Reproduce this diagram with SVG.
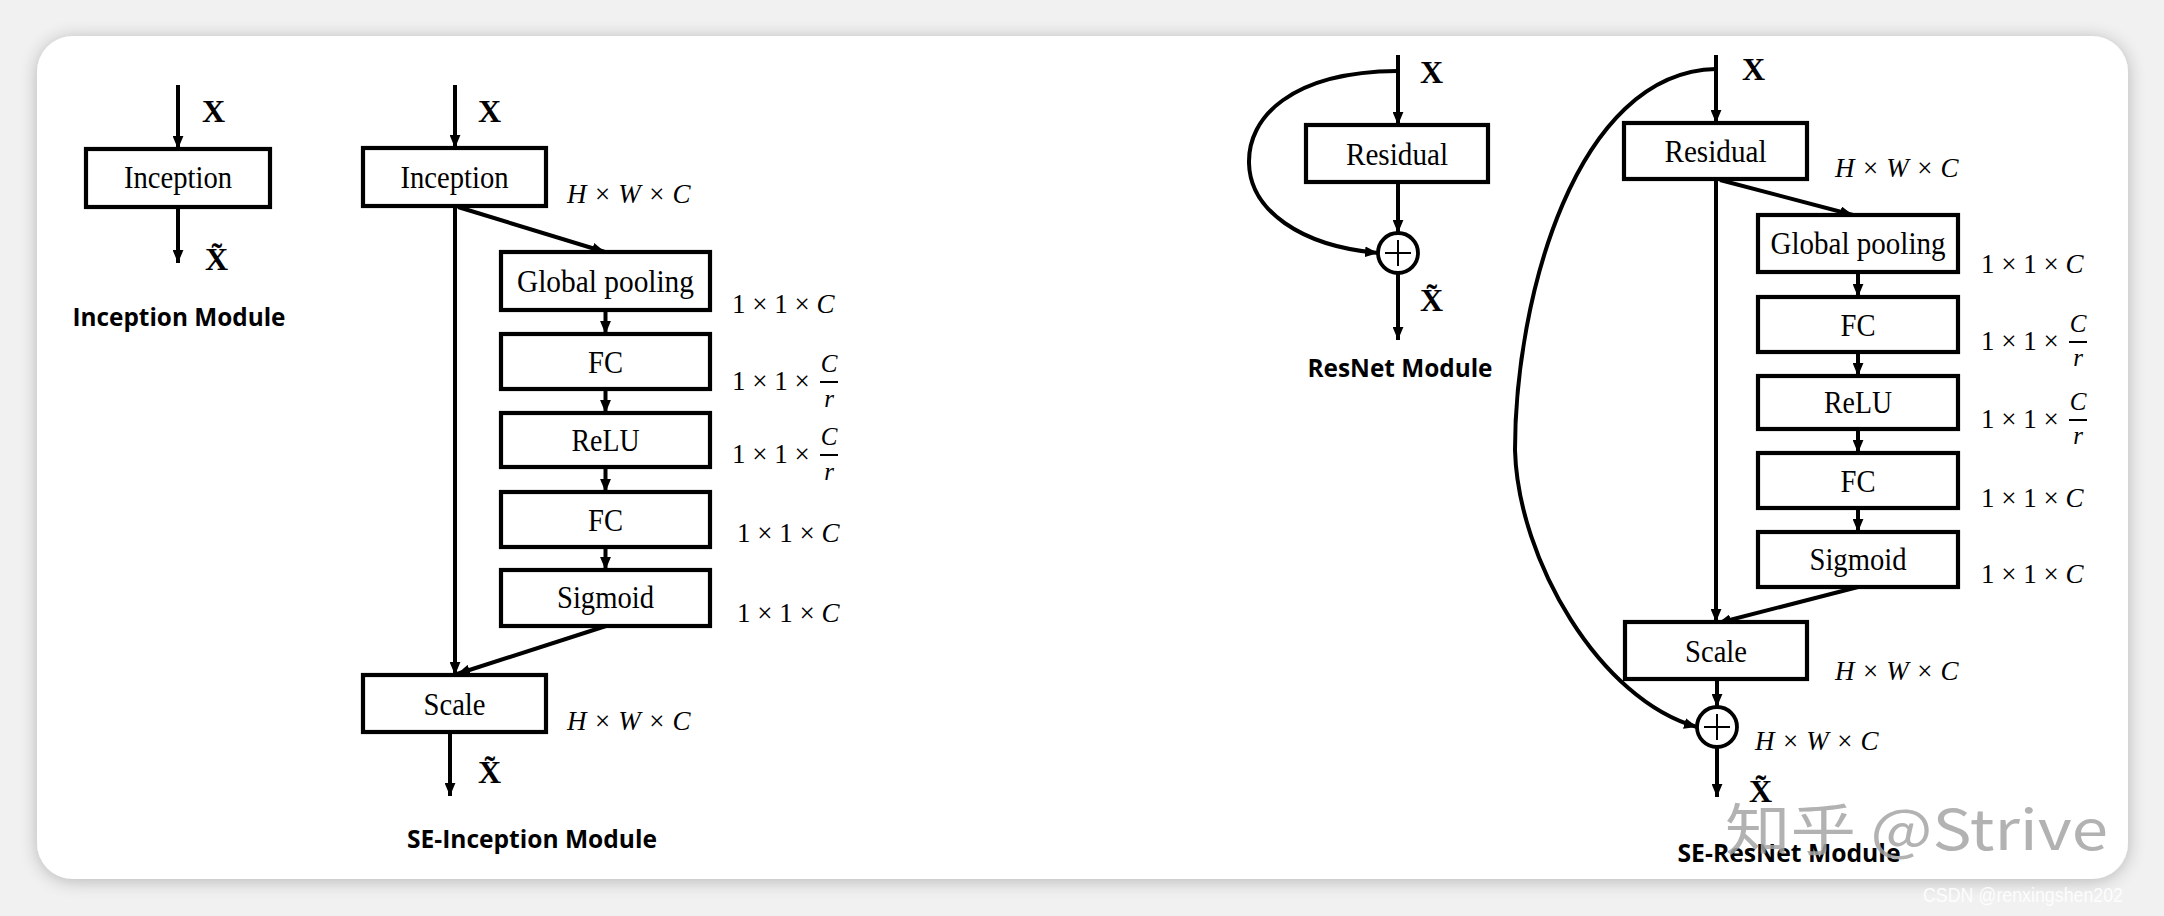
<svg xmlns="http://www.w3.org/2000/svg" width="2164" height="916" viewBox="0 0 2164 916">
<defs>
<filter id="shadow" x="-5%" y="-10%" width="110%" height="120%">
<feGaussianBlur in="SourceAlpha" stdDeviation="9"/>
<feOffset dx="0" dy="2"/>
<feComponentTransfer><feFuncA type="linear" slope="0.25"/></feComponentTransfer>
<feMerge><feMergeNode/><feMergeNode in="SourceGraphic"/></feMerge>
</filter>
<marker id="ah" viewBox="0 0 12 10" refX="12" refY="5" markerWidth="13" markerHeight="11" markerUnits="userSpaceOnUse" orient="auto">
<path d="M0,0 L12,5 L0,10 z" fill="#000"/>
</marker>
</defs>
<style>
.box{fill:#fff;stroke:#000;stroke-width:4.2}
.ln{fill:none;stroke:#000;stroke-width:4}
.arr{fill:none;stroke:#000;stroke-width:4;marker-end:url(#ah)}
.lbl{font-family:"Liberation Serif","Times New Roman",serif;font-size:31px;text-anchor:middle;fill:#000}
.bx{font-family:"Liberation Serif","Times New Roman",serif;font-size:32px;font-weight:bold;fill:#000}
.m{font-family:"Liberation Serif","Times New Roman",serif;font-size:27px;fill:#000}
.mi{font-family:"Liberation Serif","Times New Roman",serif;font-size:27px;font-style:italic;fill:#000}
.fr{font-family:"Liberation Serif","Times New Roman",serif;font-size:25px;font-style:italic;fill:#000;text-anchor:middle}
.ttl{font-family:"Open Sans","Liberation Sans",sans-serif;font-size:25px;font-weight:bold;text-anchor:middle;fill:#000}
.plus{fill:#fff;stroke:#000;stroke-width:3.8}
.pl{stroke:#000;stroke-width:2;fill:none}
</style>
<rect x="0" y="0" width="2164" height="916" fill="#f1f1f1"/>
<rect x="37" y="36" width="2091" height="843" rx="36" fill="#fff" filter="url(#shadow)"/>

<g id="connectors">
<line class="arr" x1="178" y1="85" x2="178" y2="149"/>
<line class="arr" x1="178" y1="207" x2="178" y2="263"/>
<line class="arr" x1="455" y1="85" x2="455" y2="148"/>
<line class="arr" x1="455" y1="206" x2="455" y2="675"/>
<line class="arr" x1="458" y1="207" x2="605" y2="252"/>
<line class="arr" x1="605.5" y1="310" x2="605.5" y2="334"/>
<line class="arr" x1="605.5" y1="389" x2="605.5" y2="413"/>
<line class="arr" x1="605.5" y1="467" x2="605.5" y2="492"/>
<line class="arr" x1="605.5" y1="547" x2="605.5" y2="570"/>
<line class="arr" x1="606" y1="626" x2="457" y2="674"/>
<line class="arr" x1="450" y1="732" x2="450" y2="796"/>
<line class="arr" x1="1398" y1="55" x2="1398" y2="125"/>
<line class="arr" x1="1398" y1="182" x2="1398" y2="233"/>
<line class="arr" x1="1398" y1="273" x2="1398" y2="340"/>
<path class="arr" d="M1397,71 C1290,72 1248,118 1249,163 C1250,210 1300,246 1378,253"/>
<line class="arr" x1="1716" y1="55" x2="1716" y2="123"/>
<line class="arr" x1="1716" y1="179" x2="1716" y2="622"/>
<line class="arr" x1="1720" y1="180" x2="1853" y2="215"/>
<line class="arr" x1="1858" y1="272" x2="1858" y2="297"/>
<line class="arr" x1="1858" y1="352" x2="1858" y2="376"/>
<line class="arr" x1="1858" y1="429" x2="1858" y2="453"/>
<line class="arr" x1="1858" y1="508" x2="1858" y2="532"/>
<line class="arr" x1="1858" y1="587" x2="1718" y2="623"/>
<line class="arr" x1="1717" y1="679" x2="1717" y2="707"/>
<line class="arr" x1="1717" y1="747" x2="1717" y2="797"/>
<path class="arr" d="M1716,69 C1575,72 1515,300 1515,450 C1518,560 1600,700 1697,727"/>
</g>

<g id="inc">
<rect class="box" x="86" y="149" width="184" height="58"/>
<text class="lbl" x="178" y="188" textLength="108" lengthAdjust="spacingAndGlyphs">Inception</text>
</g>
<text class="bx" x="202" y="122">X</text>
<text class="bx" x="205" y="270">X&#x303;</text>
<text class="ttl" x="179" y="326" textLength="213" lengthAdjust="spacingAndGlyphs">Inception Module</text>

<g id="se-inc">
<rect class="box" x="363" y="148" width="183" height="58"/>
<text class="lbl" x="454.5" y="188" textLength="108" lengthAdjust="spacingAndGlyphs">Inception</text>
</g>
<g id="se-inc-gp">
<rect class="box" x="501" y="252" width="209" height="58"/>
<text class="lbl" x="605.5" y="292" textLength="177" lengthAdjust="spacingAndGlyphs">Global pooling</text>
</g>
<g id="se-inc-fc1">
<rect class="box" x="501" y="334" width="209" height="55"/>
<text class="lbl" x="605.5" y="373" textLength="35" lengthAdjust="spacingAndGlyphs">FC</text>
</g>
<g id="se-inc-relu">
<rect class="box" x="501" y="413" width="209" height="54"/>
<text class="lbl" x="605.5" y="451" textLength="68" lengthAdjust="spacingAndGlyphs">ReLU</text>
</g>
<g id="se-inc-fc2">
<rect class="box" x="501" y="492" width="209" height="55"/>
<text class="lbl" x="605.5" y="531" textLength="35" lengthAdjust="spacingAndGlyphs">FC</text>
</g>
<g id="se-inc-sig">
<rect class="box" x="501" y="570" width="209" height="56"/>
<text class="lbl" x="605.5" y="608" textLength="97" lengthAdjust="spacingAndGlyphs">Sigmoid</text>
</g>
<g id="se-inc-scale">
<rect class="box" x="363" y="675" width="183" height="57"/>
<text class="lbl" x="454.5" y="715" textLength="62" lengthAdjust="spacingAndGlyphs">Scale</text>
</g>
<text class="bx" x="478" y="122">X</text>
<text class="bx" x="478" y="783">X&#x303;</text>
<text class="mi" x="567" y="203">H × W × C</text>
<text class="m" x="732" y="313">1 × 1 × <tspan font-style="italic">C</tspan></text>
<text class="m" x="732" y="390">1 × 1 ×</text>
<line class="pl" x1="820" y1="382" x2="838" y2="382"/>
<text class="fr" x="829" y="372">C</text>
<text class="fr" x="829" y="407">r</text>
<text class="m" x="732" y="463">1 × 1 ×</text>
<line class="pl" x1="820" y1="455" x2="838" y2="455"/>
<text class="fr" x="829" y="445">C</text>
<text class="fr" x="829" y="480">r</text>
<text class="m" x="737" y="542">1 × 1 × <tspan font-style="italic">C</tspan></text>
<text class="m" x="737" y="622">1 × 1 × <tspan font-style="italic">C</tspan></text>
<text class="mi" x="567" y="730">H × W × C</text>
<text class="ttl" x="532" y="848" textLength="250" lengthAdjust="spacingAndGlyphs">SE-Inception Module</text>

<g id="res">
<rect class="box" x="1306" y="125" width="182" height="57"/>
<text class="lbl" x="1397" y="165" textLength="102" lengthAdjust="spacingAndGlyphs">Residual</text>
</g>
<g id="res-add">
<circle class="plus" cx="1398" cy="253" r="20"/>
<line class="pl" x1="1385" y1="253" x2="1411" y2="253"/>
<line class="pl" x1="1398" y1="240" x2="1398" y2="266"/>
</g>
<text class="bx" x="1420" y="83">X</text>
<text class="bx" x="1420" y="311">X&#x303;</text>
<text class="ttl" x="1400" y="377" textLength="185" lengthAdjust="spacingAndGlyphs">ResNet Module</text>

<g id="se-res">
<rect class="box" x="1624" y="123" width="183" height="56"/>
<text class="lbl" x="1715.5" y="162" textLength="102" lengthAdjust="spacingAndGlyphs">Residual</text>
</g>
<g id="se-res-gp">
<rect class="box" x="1758" y="215" width="200" height="57"/>
<text class="lbl" x="1858" y="254" textLength="175" lengthAdjust="spacingAndGlyphs">Global pooling</text>
</g>
<g id="se-res-fc1">
<rect class="box" x="1758" y="297" width="200" height="55"/>
<text class="lbl" x="1858" y="336" textLength="35" lengthAdjust="spacingAndGlyphs">FC</text>
</g>
<g id="se-res-relu">
<rect class="box" x="1758" y="376" width="200" height="53"/>
<text class="lbl" x="1858" y="413" textLength="68" lengthAdjust="spacingAndGlyphs">ReLU</text>
</g>
<g id="se-res-fc2">
<rect class="box" x="1758" y="453" width="200" height="55"/>
<text class="lbl" x="1858" y="492" textLength="35" lengthAdjust="spacingAndGlyphs">FC</text>
</g>
<g id="se-res-sig">
<rect class="box" x="1758" y="532" width="200" height="55"/>
<text class="lbl" x="1858" y="570" textLength="97" lengthAdjust="spacingAndGlyphs">Sigmoid</text>
</g>
<g id="se-res-scale">
<rect class="box" x="1625" y="622" width="182" height="57"/>
<text class="lbl" x="1716" y="662" textLength="62" lengthAdjust="spacingAndGlyphs">Scale</text>
</g>
<g id="se-res-add">
<circle class="plus" cx="1717" cy="727" r="20"/>
<line class="pl" x1="1704" y1="727" x2="1730" y2="727"/>
<line class="pl" x1="1717" y1="714" x2="1717" y2="740"/>
</g>
<text class="bx" x="1742" y="80">X</text>
<text class="mi" x="1835" y="177">H × W × C</text>
<text class="m" x="1981" y="273">1 × 1 × <tspan font-style="italic">C</tspan></text>
<text class="m" x="1981" y="350">1 × 1 ×</text>
<line class="pl" x1="2069" y1="342" x2="2087" y2="342"/>
<text class="fr" x="2078" y="332">C</text>
<text class="fr" x="2078" y="366">r</text>
<text class="m" x="1981" y="428">1 × 1 ×</text>
<line class="pl" x1="2069" y1="420" x2="2087" y2="420"/>
<text class="fr" x="2078" y="410">C</text>
<text class="fr" x="2078" y="444">r</text>
<text class="m" x="1981" y="507">1 × 1 × <tspan font-style="italic">C</tspan></text>
<text class="m" x="1981" y="583">1 × 1 × <tspan font-style="italic">C</tspan></text>
<text class="mi" x="1835" y="680">H × W × C</text>
<text class="mi" x="1755" y="750">H × W × C</text>
<text class="bx" x="1749" y="802">X&#x303;</text>
<text class="ttl" x="1789" y="862" textLength="223" lengthAdjust="spacingAndGlyphs">SE-ResNet Module</text>

<text x="1725" y="850" font-family="'Noto Sans CJK SC','Noto Sans',sans-serif" font-size="56" fill="#a4a4a4" fill-opacity="0.85" textLength="383" lengthAdjust="spacingAndGlyphs">知乎 @Strive</text>
<text x="1923" y="902" font-family="'Liberation Sans',Arial,sans-serif" font-size="21" fill="#ffffff" fill-opacity="0.9" textLength="200" lengthAdjust="spacingAndGlyphs">CSDN @renxingshen202</text>
</svg>
